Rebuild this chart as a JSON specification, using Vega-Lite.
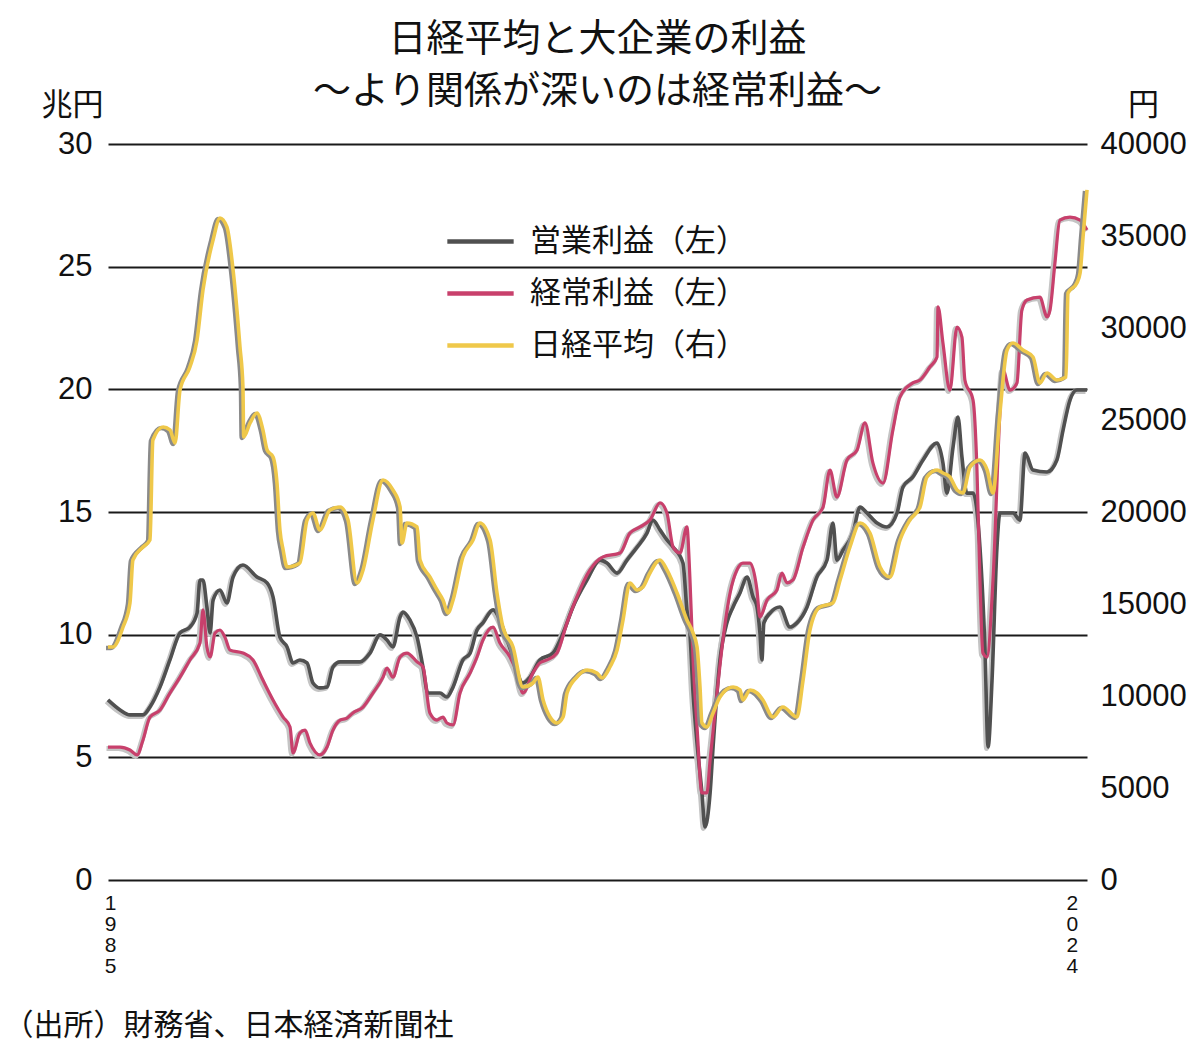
{
"$schema": "https://vega.github.io/schema/vega-lite/v6.json",
"width": 979, "height": 736,
"autosize": {"type": "none"},
"padding": {"left": 108, "top": 144, "right": 113, "bottom": 181},
"background": "white",
"title": {"text": ["日経平均と大企業の利益", "〜より関係が深いのは経常利益〜"], "fontSize": 38, "fontWeight": "normal", "font": "Noto Sans CJK JP", "color": "#111", "anchor": "middle", "frame": "group", "lineHeight": 52, "offset": -22},
"datasets": {
"op": [{"t":1984.92,"v":7.34},{"t":1985.41,"v":6.93},{"t":1985.81,"v":6.73},{"t":1986.34,"v":6.73},{"t":1986.62,"v":7.05},{"t":1987.03,"v":7.87},{"t":1987.43,"v":8.97},{"t":1987.84,"v":10.07},{"t":1988.24,"v":10.31},{"t":1988.53,"v":10.88},{"t":1988.65,"v":12.23},{"t":1988.77,"v":12.23},{"t":1988.93,"v":11.13},{"t":1989.06,"v":10.07},{"t":1989.18,"v":11.41},{"t":1989.46,"v":11.82},{"t":1989.74,"v":11.29},{"t":1989.99,"v":12.35},{"t":1990.39,"v":12.84},{"t":1990.96,"v":12.35},{"t":1991.37,"v":12.11},{"t":1991.61,"v":11.54},{"t":1991.89,"v":9.9},{"t":1992.18,"v":9.5},{"t":1992.42,"v":8.85},{"t":1992.7,"v":8.97},{"t":1992.99,"v":8.85},{"t":1993.23,"v":8.03},{"t":1993.51,"v":7.83},{"t":1993.8,"v":7.87},{"t":1994.04,"v":8.68},{"t":1994.33,"v":8.89},{"t":1994.73,"v":8.89},{"t":1995.14,"v":8.89},{"t":1995.54,"v":9.25},{"t":1995.95,"v":9.99},{"t":1996.23,"v":9.78},{"t":1996.47,"v":9.5},{"t":1996.76,"v":10.72},{"t":1996.88,"v":10.92},{"t":1997.16,"v":10.6},{"t":1997.45,"v":9.9},{"t":1997.69,"v":8.68},{"t":1997.89,"v":7.62},{"t":1998.38,"v":7.62},{"t":1998.66,"v":7.46},{"t":1998.91,"v":7.87},{"t":1999.31,"v":8.97},{"t":1999.6,"v":9.25},{"t":1999.88,"v":10.19},{"t":2000.12,"v":10.48},{"t":2000.53,"v":11.01},{"t":2000.81,"v":10.6},{"t":2001.1,"v":9.78},{"t":2001.34,"v":9.09},{"t":2001.74,"v":8.03},{"t":2002.03,"v":8.27},{"t":2002.43,"v":8.97},{"t":2002.96,"v":9.25},{"t":2003.37,"v":10.07},{"t":2003.77,"v":11.13},{"t":2004.34,"v":12.23},{"t":2004.87,"v":13.04},{"t":2005.15,"v":12.92},{"t":2005.56,"v":12.51},{"t":2005.96,"v":13.04},{"t":2006.37,"v":13.57},{"t":2006.77,"v":14.14},{"t":2007.01,"v":14.67},{"t":2007.3,"v":14.27},{"t":2007.58,"v":13.86},{"t":2007.83,"v":13.57},{"t":2008.23,"v":12.92},{"t":2008.39,"v":11.01},{"t":2008.51,"v":10.07},{"t":2008.64,"v":7.62},{"t":2008.8,"v":5.58},{"t":2009.0,"v":3.55},{"t":2009.12,"v":2.16},{"t":2009.33,"v":3.55},{"t":2009.45,"v":5.42},{"t":2009.73,"v":8.97},{"t":2010.01,"v":10.48},{"t":2010.26,"v":11.13},{"t":2010.54,"v":11.7},{"t":2010.83,"v":12.35},{"t":2011.07,"v":11.54},{"t":2011.23,"v":11.13},{"t":2011.35,"v":10.07},{"t":2011.43,"v":8.97},{"t":2011.51,"v":10.48},{"t":2011.76,"v":10.88},{"t":2012.16,"v":11.13},{"t":2012.57,"v":10.31},{"t":2012.85,"v":10.48},{"t":2013.26,"v":11.13},{"t":2013.66,"v":12.35},{"t":2014.07,"v":13.04},{"t":2014.31,"v":14.55},{"t":2014.47,"v":13.04},{"t":2014.72,"v":13.45},{"t":2015.12,"v":14.14},{"t":2015.41,"v":15.2},{"t":2015.69,"v":14.96},{"t":2016.1,"v":14.55},{"t":2016.5,"v":14.39},{"t":2016.91,"v":14.96},{"t":2017.15,"v":16.02},{"t":2017.55,"v":16.43},{"t":2017.96,"v":17.12},{"t":2018.53,"v":17.81},{"t":2018.77,"v":17.0},{"t":2018.93,"v":15.77},{"t":2019.18,"v":17.65},{"t":2019.38,"v":18.87},{"t":2019.54,"v":17.24},{"t":2019.74,"v":15.77},{"t":2019.99,"v":15.77},{"t":2020.27,"v":13.57},{"t":2020.47,"v":9.5},{"t":2020.6,"v":5.42},{"t":2020.76,"v":8.15},{"t":2020.96,"v":13.57},{"t":2021.08,"v":14.96},{"t":2021.37,"v":14.96},{"t":2021.61,"v":14.96},{"t":2021.89,"v":14.67},{"t":2022.1,"v":17.4},{"t":2022.42,"v":16.71},{"t":2022.99,"v":16.63},{"t":2023.39,"v":17.12},{"t":2023.64,"v":18.34},{"t":2023.92,"v":19.56},{"t":2024.2,"v":19.97},{"t":2024.61,"v":19.97}],
"ord": [{"t":1984.92,"v":5.42},{"t":1985.41,"v":5.42},{"t":1985.81,"v":5.3},{"t":1986.1,"v":5.1},{"t":1986.34,"v":5.71},{"t":1986.62,"v":6.64},{"t":1987.03,"v":6.93},{"t":1987.43,"v":7.62},{"t":1987.84,"v":8.27},{"t":1988.24,"v":8.97},{"t":1988.65,"v":9.66},{"t":1988.77,"v":11.01},{"t":1988.93,"v":9.5},{"t":1989.06,"v":9.09},{"t":1989.26,"v":10.07},{"t":1989.46,"v":10.19},{"t":1989.66,"v":9.9},{"t":1989.87,"v":9.37},{"t":1990.39,"v":9.25},{"t":1990.8,"v":8.97},{"t":1991.2,"v":8.15},{"t":1991.61,"v":7.34},{"t":1992.02,"v":6.64},{"t":1992.3,"v":6.24},{"t":1992.42,"v":5.18},{"t":1992.7,"v":5.99},{"t":1992.91,"v":6.11},{"t":1993.11,"v":5.58},{"t":1993.51,"v":5.1},{"t":1993.8,"v":5.42},{"t":1994.04,"v":6.11},{"t":1994.33,"v":6.52},{"t":1994.61,"v":6.6},{"t":1994.85,"v":6.81},{"t":1995.26,"v":7.05},{"t":1995.66,"v":7.62},{"t":1996.07,"v":8.27},{"t":1996.23,"v":8.64},{"t":1996.47,"v":8.27},{"t":1996.76,"v":9.09},{"t":1997.04,"v":9.25},{"t":1997.45,"v":8.89},{"t":1997.69,"v":8.68},{"t":1997.97,"v":6.81},{"t":1998.26,"v":6.52},{"t":1998.5,"v":6.64},{"t":1998.66,"v":6.4},{"t":1998.91,"v":6.32},{"t":1999.19,"v":7.62},{"t":1999.6,"v":8.44},{"t":1999.88,"v":9.09},{"t":2000.12,"v":9.78},{"t":2000.53,"v":10.31},{"t":2000.81,"v":9.66},{"t":2001.22,"v":9.09},{"t":2001.5,"v":8.44},{"t":2001.74,"v":7.62},{"t":2002.15,"v":8.44},{"t":2002.43,"v":8.85},{"t":2002.72,"v":8.97},{"t":2003.12,"v":9.25},{"t":2003.53,"v":10.48},{"t":2003.93,"v":11.54},{"t":2004.46,"v":12.64},{"t":2004.99,"v":13.17},{"t":2005.68,"v":13.33},{"t":2006.08,"v":14.14},{"t":2006.49,"v":14.39},{"t":2006.89,"v":14.67},{"t":2007.3,"v":15.37},{"t":2007.58,"v":14.96},{"t":2007.83,"v":13.57},{"t":2008.11,"v":13.33},{"t":2008.39,"v":14.39},{"t":2008.51,"v":12.35},{"t":2008.64,"v":8.97},{"t":2008.8,"v":6.24},{"t":2009.0,"v":3.55},{"t":2009.2,"v":3.55},{"t":2009.33,"v":4.89},{"t":2009.61,"v":7.62},{"t":2009.85,"v":9.78},{"t":2010.14,"v":11.7},{"t":2010.42,"v":12.64},{"t":2010.66,"v":12.92},{"t":2010.95,"v":12.92},{"t":2011.23,"v":11.82},{"t":2011.35,"v":10.72},{"t":2011.64,"v":11.41},{"t":2012.04,"v":11.82},{"t":2012.24,"v":12.51},{"t":2012.45,"v":12.11},{"t":2012.69,"v":12.23},{"t":2013.1,"v":13.57},{"t":2013.5,"v":14.67},{"t":2013.91,"v":15.2},{"t":2014.19,"v":16.71},{"t":2014.47,"v":15.61},{"t":2014.88,"v":17.12},{"t":2015.29,"v":17.53},{"t":2015.61,"v":18.63},{"t":2015.93,"v":17.0},{"t":2016.34,"v":16.18},{"t":2016.74,"v":18.34},{"t":2017.03,"v":19.69},{"t":2017.55,"v":20.26},{"t":2017.84,"v":20.38},{"t":2018.24,"v":20.91},{"t":2018.53,"v":21.32},{"t":2018.57,"v":23.36},{"t":2018.77,"v":21.89},{"t":2019.05,"v":19.97},{"t":2019.34,"v":22.54},{"t":2019.54,"v":22.13},{"t":2019.66,"v":20.38},{"t":2019.99,"v":19.56},{"t":2020.15,"v":16.71},{"t":2020.27,"v":12.23},{"t":2020.39,"v":9.25},{"t":2020.55,"v":9.09},{"t":2020.8,"v":12.23},{"t":2021.08,"v":19.04},{"t":2021.2,"v":20.79},{"t":2021.49,"v":19.97},{"t":2021.77,"v":20.26},{"t":2021.97,"v":23.23},{"t":2022.18,"v":23.64},{"t":2022.7,"v":23.76},{"t":2022.99,"v":22.95},{"t":2023.11,"v":23.23},{"t":2023.31,"v":25.15},{"t":2023.51,"v":26.9},{"t":2023.92,"v":27.02},{"t":2024.33,"v":26.9},{"t":2024.61,"v":26.49}],
"nk": [{"t":1984.92,"v":12664},{"t":1985.12,"v":12664},{"t":1985.53,"v":13751},{"t":1985.81,"v":15055},{"t":1985.93,"v":17392},{"t":1986.34,"v":18099},{"t":1986.62,"v":18479},{"t":1986.74,"v":23914},{"t":1987.15,"v":24621},{"t":1987.43,"v":24458},{"t":1987.64,"v":23751},{"t":1987.84,"v":26632},{"t":1988.24,"v":27882},{"t":1988.53,"v":29349},{"t":1988.77,"v":32067},{"t":1989.18,"v":34784},{"t":1989.46,"v":35980},{"t":1989.74,"v":35491},{"t":1989.99,"v":33154},{"t":1990.27,"v":28969},{"t":1990.39,"v":26795},{"t":1990.42,"v":24077},{"t":1990.68,"v":24838},{"t":1990.96,"v":25381},{"t":1991.2,"v":24458},{"t":1991.37,"v":23371},{"t":1991.61,"v":22990},{"t":1991.77,"v":21577},{"t":1991.89,"v":19023},{"t":1992.02,"v":17936},{"t":1992.18,"v":17012},{"t":1992.7,"v":17229},{"t":1992.99,"v":19566},{"t":1993.23,"v":19946},{"t":1993.51,"v":19023},{"t":1993.92,"v":20110},{"t":1994.33,"v":20273},{"t":1994.65,"v":19566},{"t":1995.01,"v":16142},{"t":1995.26,"v":16849},{"t":1995.66,"v":19566},{"t":1996.07,"v":21740},{"t":1996.47,"v":21197},{"t":1996.76,"v":20273},{"t":1996.84,"v":18316},{"t":1997.04,"v":19403},{"t":1997.45,"v":19186},{"t":1997.57,"v":17392},{"t":1997.97,"v":16468},{"t":1998.26,"v":15762},{"t":1998.5,"v":15218},{"t":1998.7,"v":14511},{"t":1998.91,"v":15218},{"t":1999.31,"v":17555},{"t":1999.72,"v":18479},{"t":2000.0,"v":19403},{"t":2000.41,"v":18479},{"t":2000.69,"v":15598},{"t":2000.93,"v":13751},{"t":2001.34,"v":12664},{"t":2001.74,"v":10490},{"t":2002.15,"v":10707},{"t":2002.35,"v":11033},{"t":2002.56,"v":9783},{"t":2002.84,"v":8859},{"t":2003.12,"v":8533},{"t":2003.37,"v":8859},{"t":2003.53,"v":10163},{"t":2003.93,"v":11033},{"t":2004.34,"v":11414},{"t":2004.74,"v":11250},{"t":2004.95,"v":10979},{"t":2005.27,"v":11577},{"t":2005.56,"v":12501},{"t":2005.8,"v":14131},{"t":2006.08,"v":16142},{"t":2006.37,"v":15762},{"t":2006.61,"v":15925},{"t":2006.89,"v":16685},{"t":2007.3,"v":17392},{"t":2007.58,"v":16849},{"t":2007.99,"v":15598},{"t":2008.39,"v":14131},{"t":2008.64,"v":13424},{"t":2008.8,"v":12664},{"t":2008.92,"v":10490},{"t":2009.0,"v":8533},{"t":2009.2,"v":8316},{"t":2009.45,"v":9076},{"t":2009.73,"v":9946},{"t":2010.26,"v":10490},{"t":2010.54,"v":10327},{"t":2010.66,"v":9783},{"t":2010.95,"v":10327},{"t":2011.23,"v":10163},{"t":2011.47,"v":9783},{"t":2011.88,"v":8859},{"t":2012.28,"v":9403},{"t":2012.85,"v":8859},{"t":2013.1,"v":10870},{"t":2013.38,"v":13588},{"t":2013.78,"v":14838},{"t":2014.31,"v":15055},{"t":2014.6,"v":16305},{"t":2015.0,"v":18099},{"t":2015.41,"v":19403},{"t":2015.81,"v":18859},{"t":2016.22,"v":17012},{"t":2016.62,"v":16468},{"t":2017.03,"v":18479},{"t":2017.43,"v":19566},{"t":2017.84,"v":20273},{"t":2018.12,"v":21903},{"t":2018.53,"v":22284},{"t":2018.77,"v":22120},{"t":2019.05,"v":21903},{"t":2019.34,"v":21197},{"t":2019.58,"v":21033},{"t":2019.87,"v":22447},{"t":2020.27,"v":22827},{"t":2020.56,"v":22284},{"t":2020.8,"v":21033},{"t":2021.08,"v":25381},{"t":2021.37,"v":28806},{"t":2021.61,"v":29186},{"t":2022.01,"v":28806},{"t":2022.42,"v":28425},{"t":2022.7,"v":27012},{"t":2022.99,"v":27555},{"t":2023.39,"v":27175},{"t":2023.76,"v":27338},{"t":2023.84,"v":31903},{"t":2024.2,"v":32447},{"t":2024.33,"v":32990},{"t":2024.45,"v":34947},{"t":2024.61,"v":37502}]
},
"encoding": {
  "x": {"field": "t", "type": "quantitative", "scale": {"domain": [1984.92, 2024.61], "nice": false, "zero": false},
    "axis": {"values": [1985, 2024], "format": "d", "labelExpr": "split(datum.label, '')", "labelFont": "Liberation Sans", "labelFontSize": 21, "labelLineHeight": 21, "labelColor": "#111", "labelBaseline": "top", "labelPadding": 12, "labelFlush": false, "labelOverlap": false, "ticks": false, "domain": false, "grid": false,
      "title": "（出所）財務省、日本経済新聞社", "titleFont": "Noto Sans CJK JP", "titleFontSize": 30, "titleFontWeight": "normal", "titleColor": "#111", "titleAnchor": "start", "titleAlign": "left", "titleBaseline": "middle", "titleX": -105, "titleY": 145}}
},
"layer": [
  {
    "encoding": {"y": {"field": "v", "type": "quantitative", "scale": {"domain": [0, 30], "nice": false},
      "axis": {"orient": "left", "values": [0,5,10,15,20,25,30], "grid": true, "gridColor": "#1a1a1a", "gridWidth": 2, "gridOpacity": 1, "domain": false, "ticks": false, "labelFont": "Liberation Sans", "labelFontSize": 31, "labelColor": "#111", "labelPadding": 16,
        "title": "兆円", "titleFont": "Noto Sans CJK JP", "titleFontSize": 31, "titleFontWeight": "normal", "titleColor": "#111", "titleAngle": 0, "titleAlign": "center", "titleBaseline": "middle", "titleX": -36, "titleY": -39}}},
    "layer": [
      {"data": {"name": "op"}, "mark": {"type": "line", "color": "#c4c4c4", "strokeWidth": 5, "interpolate": "monotone", "xOffset": -1.5, "yOffset": 1.5}},
      {"data": {"name": "ord"}, "mark": {"type": "line", "color": "#c4c4c4", "strokeWidth": 5, "interpolate": "monotone", "xOffset": -1.5, "yOffset": 1.5}},
      {"data": {"name": "op"}, "mark": {"type": "line", "strokeWidth": 3.6, "interpolate": "monotone"}, "encoding": {"color": {"datum": "営業利益（左）", "type": "nominal"}}},
      {"data": {"name": "ord"}, "mark": {"type": "line", "strokeWidth": 3.2, "interpolate": "monotone"}, "encoding": {"color": {"datum": "経常利益（左）", "type": "nominal"}}}
    ]
  },
  {
    "encoding": {"y": {"field": "v", "type": "quantitative", "scale": {"domain": [0, 40000], "nice": false},
      "axis": {"orient": "right", "values": [0,5000,10000,15000,20000,25000,30000,35000,40000], "format": "d", "grid": false, "domain": false, "ticks": false, "labelFont": "Liberation Sans", "labelFontSize": 31, "labelColor": "#111", "labelPadding": 13,
        "title": "円", "titleFont": "Noto Sans CJK JP", "titleFontSize": 31, "titleFontWeight": "normal", "titleColor": "#111", "titleAngle": 0, "titleAlign": "center", "titleBaseline": "middle", "titleX": 56, "titleY": -39}}},
    "layer": [
      {"data": {"name": "nk"}, "mark": {"type": "line", "color": "#8a8a8a", "strokeWidth": 4.5, "interpolate": "monotone", "xOffset": -2, "yOffset": 1}},
      {"data": {"name": "nk"}, "mark": {"type": "line", "strokeWidth": 3.6, "interpolate": "monotone"}, "encoding": {"color": {"datum": "日経平均（右）", "type": "nominal"}}}
    ]
  }
],
"resolve": {"scale": {"y": "independent"}},
"config": {"view": {"stroke": null}, "font": "Noto Sans CJK JP",
  "range": {"category": ["#505050", "#c8406c", "#efc84a"]},
  "legend": {"orient": "none", "legendX": 337, "legendY": 62, "title": null, "labelFont": "Noto Sans CJK JP", "labelFontSize": 31, "labelLimit": 500, "labelColor": "#111", "symbolType": "stroke", "symbolSize": 4400, "symbolStrokeWidth": 4.5, "labelOffset": 14, "rowPadding": 1}
}
}
